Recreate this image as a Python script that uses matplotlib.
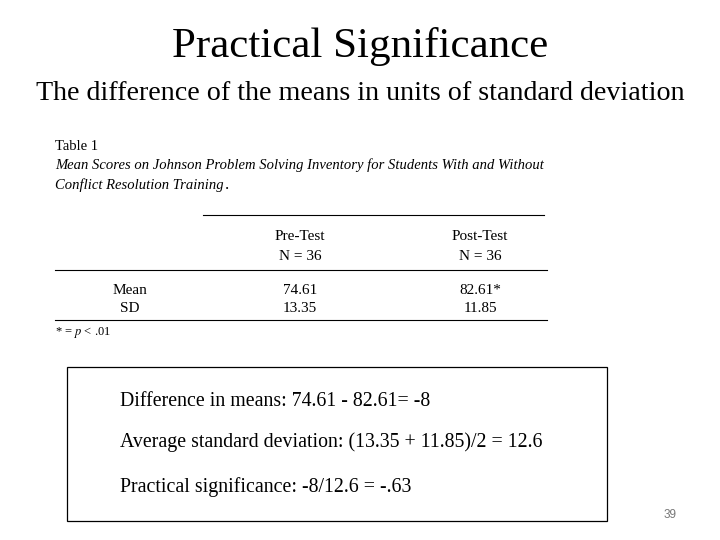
import matplotlib
matplotlib.use('Agg')
import matplotlib.pyplot as plt
from matplotlib.lines import Line2D
from matplotlib.patches import Rectangle

plt.rcParams['font.family'] = ['Liberation Serif', 'DejaVu Serif']
plt.rcParams['mathtext.fontset'] = 'stix'

W, H = 720, 540
columns = ['Pre-Test', 'Post-Test']
n_values = [36, 36]
means = ['74.61', '82.61*']
sds = ['13.35', '11.85']
row_labels = ['Mean', 'SD']
calc_lines = [
    'Difference in means: 74.61 - 82.61= -8',
    'Average standard deviation: (13.35 + 11.85)/2 = 12.6',
    'Practical significance: -8/12.6 = -.63',
]

fig = plt.figure(figsize=(7.2, 5.4), dpi=100)


def px(x, y):
    return x / W, 1 - y / H


def txt(x, y, s, **kw):
    fig.text(*px(x, y), s, va='center', **kw)


def hline(x0, x1, y):
    fig.add_artist(Line2D([x0 / W, x1 / W], [1 - y / H] * 2, color='black', lw=0.8))


txt(360, 47, 'Practical Significance', ha='center', fontsize=31)
txt(360, 93, 'The difference of the means in units of standard deviation', ha='center', fontsize=20.2)

txt(55, 146, 'Table 1', fontsize=10.5)
txt(55, 165, 'Mean Scores on Johnson Problem Solving Inventory for Students With and Without',
    fontsize=10.5, style='italic')
txt(55, 185, 'Conflict Resolution Training', fontsize=10.5, style='italic')
txt(225, 185, '.', fontsize=12)

hline(203, 544, 215)
col_x = [300, 480]
for cx, c, n, m, s in zip(col_x, columns, n_values, means, sds):
    txt(cx, 237, c, ha='center', fontsize=11)
    txt(cx, 257, f'N = {n}', ha='center', fontsize=11)
    txt(cx, 290, m, ha='center', fontsize=11)
    txt(cx, 308, s, ha='center', fontsize=11)
hline(55, 547, 270)
txt(130, 290, row_labels[0], ha='center', fontsize=11)
txt(130, 308, row_labels[1], ha='center', fontsize=11)
hline(55, 547, 320)
txt(55, 333, '* = $\\it{p}$ < .01', fontsize=9)

fig.add_artist(Rectangle(px(67, 521), 540 / W, 154 / H, fill=False, ec='black', lw=0.9))
for y, s in zip([402, 442, 487], calc_lines):
    txt(120, y, s, fontsize=14.3)

txt(670, 515, '39', ha='center', fontsize=8.5, color='#777777', family='Liberation Sans')

fig.savefig('out.png', dpi=100)
